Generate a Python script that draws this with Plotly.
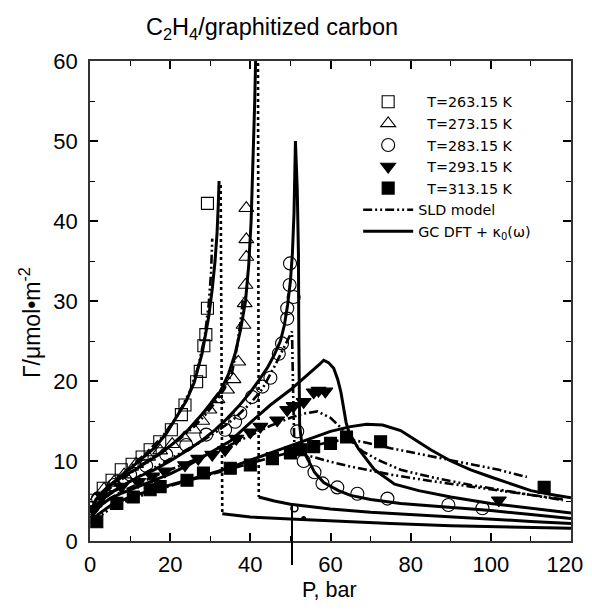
import plotly.graph_objects as go

# ---------------- axis ticks ----------------
X_TICKS = [0, 20, 40, 60, 80, 100, 120]
X_TICK_TEXT = ["0", "20", "40", "60", "80", "100", "120\u00a0\u00a0"]
Y_TICKS = [0, 10, 20, 30, 40, 50, 60]
Y_TICK_TEXT = ["0", "10", "20", "30", "40", "50", "60"]

# ---------------- experimental points ----------------
P_sq263 = [0.8, 3.3, 5.5, 7.8, 10.5, 13.0, 15.0, 17.4, 20.3, 22.8, 23.7, 26.6, 27.5, 28.4, 28.9, 29.3, 29.3]
G_sq263 = [5.1, 6.6, 7.6, 8.9, 9.6, 10.5, 11.4, 12.4, 13.9, 15.8, 17.0, 19.9, 21.2, 24.4, 25.8, 29.1, 42.2]

P_tr273 = [1.5, 3.5, 6.0, 8.5, 11.5, 14.5, 17.5, 20.5, 23.5, 26.0, 28.0, 29.8, 31.8, 34.2, 35.8, 37.0, 38.3, 38.6, 38.8, 39.0, 39.0, 39.0]
G_tr273 = [5.3, 6.5, 7.4, 8.3, 9.6, 10.5, 11.3, 12.1, 12.9, 13.9, 15.0, 16.4, 17.7, 18.9, 20.2, 22.4, 27.0, 29.7, 32.0, 35.5, 37.7, 41.6]

P_ci283 = [2.0, 6.0, 10.0, 14.0, 19.0, 24.0, 29.0, 33.7, 36.2, 37.5, 40.4, 43.0, 45.0, 47.1, 47.9, 49.2, 49.2, 50.8, 49.8, 49.9,
           51.7, 53.3, 56.0, 58.0, 61.7, 66.7, 74.2, 89.4, 97.9]
G_ci283 = [5.3, 7.0, 8.3, 9.4, 10.8, 12.0, 13.3, 13.9, 14.9, 16.0, 18.0, 19.3, 20.4, 23.4, 24.7, 27.8, 29.1, 30.5, 32.0, 34.7,
           13.7, 10.0, 8.6, 7.2, 6.7, 5.9, 5.3, 4.5, 4.1]

P_td293 = [1.0, 3.0, 7.8, 12.0, 15.5, 18.7, 23.7, 27.0, 30.5, 33.7, 36.5, 40.0, 42.5, 46.7, 49.2, 50.8, 53.3, 55.8, 57.0, 58.7, 102.0]
G_td293 = [4.0, 5.6, 6.8, 7.4, 8.1, 8.7, 9.5, 10.3, 10.8, 11.4, 12.8, 13.6, 14.3, 15.1, 16.4, 16.9, 17.4, 18.6, 18.8, 18.7, 5.1]

P_sq313 = [1.7, 6.7, 10.8, 15.0, 17.5, 24.2, 28.3, 35.0, 40.0, 45.5, 50.0, 52.5, 55.8, 60.0, 64.0, 72.5, 113.3]
G_sq313 = [2.4, 4.7, 5.5, 6.4, 6.8, 7.6, 8.5, 9.1, 9.5, 10.3, 11.0, 11.4, 11.8, 12.2, 13.0, 12.4, 6.7]

# ---------------- GC DFT + kappa0(omega) (solid) ----------------
P_gc263 = [0.3, 1, 3, 5, 8, 11, 13, 16, 19, 22, 24, 26, 28, 29.6, 30.5, 31.2, 31.7, 32.0, 32.2]
G_gc263 = [3.5, 4.8, 6.1, 7.0, 8.2, 9.5, 10.3, 11.6, 13.4, 15.8, 17.5, 19.8, 23.5, 28, 31.5, 35, 38.5, 42, 45]
P_gc263_drop = [32.6, 33.0]
G_gc263_drop = [44.5, 3.4]
P_gc263_liq = [33.0, 36, 40, 50, 60, 75, 90, 105, 120]
G_gc263_liq = [3.4, 3.2, 3.0, 2.75, 2.5, 2.2, 1.9, 1.75, 1.6]

P_gc273 = [0.3, 1.5, 4.5, 8, 11.2, 14.5, 17.8, 21, 24.5, 27.5, 30, 32.5, 34.5, 36.2, 37.6, 38.8, 39.6, 40.2, 40.7, 41.1, 41.4]
G_gc273 = [3.5, 5.2, 6.8, 8.0, 8.9, 10.0, 11.0, 12.3, 13.9, 15.6, 17.0, 18.7, 20.8, 23.4, 26.5, 30, 34.5, 40, 47, 55, 62]
P_gc273_drop = [41.9, 42.1]
G_gc273_drop = [62, 5.5]
P_gc273_liq = [42.1, 46, 50, 55, 60, 70, 80, 90, 100, 110, 120]
G_gc273_liq = [5.5, 5.0, 4.6, 4.3, 4.0, 3.6, 3.3, 3.0, 2.75, 2.45, 2.2]

P_gc283 = [0.3, 2, 5, 8, 12, 16, 20, 24.5, 28, 31.2, 34, 37, 40, 42, 44.2, 46, 47.5, 48.5, 49.3, 50.0, 50.5, 50.9, 51.25,
           51.7, 52.0, 52.1, 52.3, 53.0, 54.2, 56.0, 58.3, 62.0, 65.0, 70.0, 77.5, 90.0, 100.0, 110.0, 120.0]
G_gc283 = [3.2, 4.7, 6.0, 6.9, 8.0, 8.9, 10.0, 11.4, 12.6, 13.9, 15.2, 16.8, 18.6, 20.0, 21.6, 23.3, 25.0, 27.0, 29.5, 32.5, 36, 41, 50,
           44, 36, 25, 14.5, 11.5, 10.3, 8.6, 7.3, 6.3, 5.7, 5.2, 4.7, 4.2, 3.8, 3.3, 2.8]

P_gc293 = [0.3, 2, 5, 8, 12, 16, 20, 25, 30, 35, 40, 45, 50, 54, 57.3, 58.3, 59.5, 60.8, 61.8, 62.6, 63.3, 63.9, 64.6, 65.5,
           67, 71, 76, 82, 90, 100, 110, 120]
G_gc293 = [2.9, 4.2, 5.3, 6.0, 6.8, 7.6, 8.4, 9.6, 11.0, 12.5, 14.8, 17.0, 18.9, 20.6, 22.1, 22.6, 22.3, 21.6, 20.2, 18.6, 16.6, 14.8, 13.6, 12.8,
           11.5, 8.9, 7.1, 6.3, 5.5, 4.7, 4.1, 3.5]

P_gc313 = [0.3, 2, 5, 10, 15, 20, 25, 30, 35, 40, 45, 50, 55, 60, 65, 69, 73, 77.5, 81, 85, 90, 95, 100, 105, 110, 115, 120]
G_gc313 = [2.2, 3.3, 4.4, 5.5, 6.3, 7.0, 7.7, 8.4, 9.2, 10.1, 11.0, 11.9, 12.8, 13.7, 14.3, 14.6, 14.5, 13.8, 12.7, 11.4, 10.0, 8.9, 8.0, 7.1, 6.3, 5.8, 5.4]

# ---------------- SLD model (dash-dot-dot) ----------------
P_sld263 = [0.5, 3, 6, 10, 14, 18, 22, 25, 27, 28.6, 29.6, 30.2, 30.5]
G_sld263 = [3.8, 6.0, 7.4, 9.2, 11.0, 13.0, 15.8, 18.8, 21.8, 25.5, 29.5, 33.5, 37.8]

P_sld273 = [0.5, 3, 6, 10, 14, 18, 22, 26, 29, 31.5, 33.5, 35.4, 36.7, 37.5, 38.2]
G_sld273 = [3.8, 5.8, 7.0, 8.5, 9.9, 11.2, 12.6, 14.3, 15.9, 17.5, 19.0, 21.0, 24.3, 27.2, 30.5]

P_sld283 = [0.5, 4, 8, 12, 16, 20, 24, 28, 32, 36, 40, 43, 46, 48, 49.5, 50.4, 50.7, 51.0, 53, 55.8, 60, 65, 75, 85, 95, 105, 118]
G_sld283 = [3.5, 5.5, 6.9, 8.0, 9.1, 10.2, 11.3, 12.5, 13.8, 15.3, 17.2, 19.0, 21.8, 23.8, 25.5, 26.2, 18, 11.5, 10.8, 10.5, 9.9, 9.3, 8.3, 7.5, 6.8, 6.1, 5.2]

P_sld293 = [0.5, 4, 8, 12, 16, 20, 25, 30, 35, 40, 45, 50, 53, 56.7, 60, 62.5, 65, 68, 72, 77.5, 85, 95, 105, 118]
G_sld293 = [3.2, 5.0, 6.2, 7.2, 8.1, 8.9, 9.9, 10.9, 12.0, 13.2, 14.4, 15.4, 15.9, 16.2, 15.4, 14.2, 12.6, 11.2, 10.1, 8.9, 8.0, 7.0, 6.2, 5.1]

P_sld313 = [0.5, 5, 10, 15, 20, 25, 30, 35, 40, 45, 50, 55, 60, 64, 68, 75, 85, 95, 102, 109]
G_sld313 = [2.4, 4.0, 5.2, 6.1, 6.9, 7.6, 8.3, 9.0, 9.7, 10.4, 11.1, 11.8, 12.4, 12.7, 12.4, 11.6, 10.6, 9.6, 8.9, 8.0]

# pointer mark near the x axis
P_mark = [51.0]
G_mark = [4.1]
P_dot = [53.3]
G_dot = [2.8]

FONT = "Liberation Sans, Arial, Helvetica, sans-serif"
LEG_FONT = "DejaVu Sans, Verdana, sans-serif"
SLD_DASH = "9px,3px,2px,3px,2px,3px"

# page body has an 8px margin: figure starts at window pixel (8, 8)
W, H = 584, 596
OFF = 8
PLOT_H = 480

fig = go.Figure()

sld = [(P_sld263, G_sld263), (P_sld273, G_sld273), (P_sld283, G_sld283), (P_sld293, G_sld293), (P_sld313, G_sld313)]
for i, (px, gy) in enumerate(sld):
    fig.add_trace(go.Scatter(x=px, y=gy, mode="lines", name="SLD model",
                             line=dict(color="black", width=2.6, dash=SLD_DASH),
                             showlegend=(i == 0), legendrank=6))

gc_solid = [(P_gc263, G_gc263), (P_gc263_liq, G_gc263_liq), (P_gc273, G_gc273), (P_gc273_liq, G_gc273_liq),
            (P_gc283, G_gc283), (P_gc293, G_gc293), (P_gc313, G_gc313)]
for i, (px, gy) in enumerate(gc_solid):
    fig.add_trace(go.Scatter(x=px, y=gy, mode="lines", name="GC DFT + κ<sub>0</sub>(ω)",
                             line=dict(color="black", width=3),
                             showlegend=(i == 0), legendrank=7))
for px, gy in [(P_gc263_drop, G_gc263_drop), (P_gc273_drop, G_gc273_drop)]:
    fig.add_trace(go.Scatter(x=px, y=gy, mode="lines", showlegend=False,
                             line=dict(color="black", width=2.6, dash="dot")))

markers = [
    (P_sq263, G_sq263, "square-open", 12, "T=263.15 K"),
    (P_tr273, G_tr273, "triangle-up-open", 13, "T=273.15 K"),
    (P_ci283, G_ci283, "circle-open", 13, "T=283.15 K"),
    (P_td293, G_td293, "triangle-down", 13, "T=293.15 K"),
    (P_sq313, G_sq313, "square", 12, "T=313.15 K"),
]
for k, (px, gy, sym, sz, nm) in enumerate(markers):
    fig.add_trace(go.Scatter(x=px, y=gy, mode="markers", name="\u00a0\u00a0" + nm,
                             marker=dict(symbol=sym, size=sz, color="black", line=dict(color="black", width=1.1)),
                             legendrank=k + 1))

fig.add_trace(go.Scatter(x=P_mark, y=G_mark, mode="markers", showlegend=False,
                         marker=dict(symbol="circle-open", size=7, color="black", line=dict(width=1.5))))
fig.add_trace(go.Scatter(x=P_dot, y=G_dot, mode="markers", showlegend=False,
                         marker=dict(symbol="circle", size=5, color="black")))

fig.add_shape(type="line", xref="x", yref="paper", x0=50.4, x1=50.4, y0=-0.05, y1=4.5 / 60,
              line=dict(color="black", width=2))

axis_common = dict(showline=True, mirror="ticks", linecolor="#333", linewidth=1.5,
                   ticks="inside", ticklen=8, tickwidth=1.5, tickcolor="black",
                   showgrid=False, zeroline=False, automargin=False,
                   tickfont=dict(family=FONT, size=22, color="black"))

fig.update_xaxes(range=[0, 120], tickmode="array", tickvals=X_TICKS, ticktext=X_TICK_TEXT,
                 minor=dict(ticks="inside", ticklen=5, dtick=10, tick0=0, tickwidth=1.2, tickcolor="black"),
                 ticklabelstandoff=3, ticklabeloverflow="allow", **axis_common)
fig.update_yaxes(range=[0, 60], tickmode="array", tickvals=Y_TICKS, ticktext=Y_TICK_TEXT,
                 minor=dict(ticks="inside", ticklen=5, dtick=5, tick0=0, tickwidth=1.2, tickcolor="black"),
                 ticklabelstandoff=6, **axis_common)

fig.add_annotation(text="P, bar", xref="paper", yref="paper", x=(329 - 90) / 481, y=-0.102,
                   showarrow=False, font=dict(family=FONT, size=21.5, color="black"),
                   xanchor="center", yanchor="middle")
fig.add_annotation(text="Γ/μmol•m<sup>-2</sup>", xref="paper", yref="paper", x=-0.1247, y=0.454,
                   showarrow=False, textangle=-90, font=dict(family=FONT, size=23, color="black"),
                   xanchor="center", yanchor="middle")

fig.update_layout(
    template="none",
    width=W, height=H,
    margin=dict(l=90 - OFF, r=21, t=61 - OFF, b=H - (61 - OFF) - PLOT_H, autoexpand=False),
    paper_bgcolor="white", plot_bgcolor="white",
    title=dict(text="C<sub>2</sub>H<sub>4</sub>/graphitized carbon", xref="container", yref="container",
               x=(272 - OFF) / W, y=1 - (27 - OFF) / H, xanchor="center", yanchor="middle",
               font=dict(family=FONT, size=23.5, color="black")),
    legend=dict(x=0.5575, y=0.948, xanchor="left", yanchor="top", bgcolor="rgba(0,0,0,0)",
                borderwidth=0, itemwidth=50, font=dict(family=LEG_FONT, size=14.3, color="black"),
                traceorder="normal"),
    showlegend=True,
)

fig.write_html("out.html")
